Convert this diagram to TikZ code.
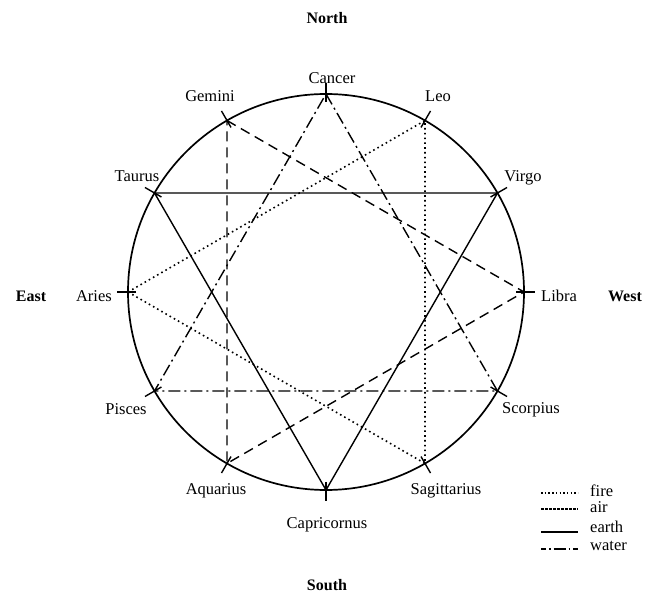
\documentclass[tikz,border=0pt]{standalone}
\usepackage{fontspec}
\setmainfont{Liberation Serif}
\usetikzlibrary{calc}
\begin{document}
\begin{tikzpicture}[x=1pt,y=1pt,
  lbl/.style={inner sep=0pt,font=\fontsize{16.5}{18}\selectfont},
  dir/.style={inner sep=0pt,font=\fontsize{16}{18}\selectfont\bfseries},
  fireln/.style={line width=1.6pt,dash pattern=on 1.6pt off 3.2pt},
  airln/.style={line width=1.4pt,dash pattern=on 10pt off 6pt},
  earthln/.style={line width=1.4pt},
  waterln/.style={line width=1.4pt,dash pattern=on 12pt off 4pt on 2pt off 4pt},
  tick/.style={line width=1.4pt}]
\useasboundingbox (0,0) rectangle (647,594);
\coordinate (c) at (326,302);
\draw[line width=1.7pt] (c) circle (198);
\foreach \n/\a in {libra/0,virgo/30,leo/60,cancer/90,gemini/120,taurus/150,aries/180,pisces/210,aquarius/240,capricornus/270,sagittarius/300,scorpius/330}{
  \coordinate (\n) at ($(c)+(\a:198)$);
  \coordinate (\n-in) at ($(c)+(\a:190)$);
  \coordinate (\n-out) at ($(c)+(\a:209)$);
  \draw[tick] (\n-in) -- (\n-out);
}
% fire
\draw[fireln] (aries) -- (leo) -- (sagittarius) -- cycle;
% air
\draw[airln] (gemini) -- (libra) -- (aquarius) -- cycle;
% earth
\draw[earthln] (taurus) -- (virgo) -- (capricornus) -- cycle;
% water
\draw[waterln] (cancer) -- (scorpius) -- (pisces) -- cycle;
% labels
\node[lbl] (tcancer) at (332,516) {Cancer};
\node[lbl] (tgemini) at (210,498) {Gemini};
\node[lbl] (tleo) at (438,498) {Leo};
\node[lbl] (ttaurus) at (137,418) {Taurus};
\node[lbl] (tvirgo) at (523,416) {Virgo};
\node[lbl,anchor=east] (taries) at (112,298) {Aries};
\node[lbl,anchor=west] (tlibra) at (541,298) {Libra};
\node[lbl] (tpisces) at (126,185) {Pisces};
\node[lbl] (tscorpius) at (531,184) {Scorpius};
\node[lbl] (taquarius) at (216,103) {Aquarius};
\node[lbl] (tsagittarius) at (446,103) {Sagittarius};
\node[lbl] (tcapricornus) at (327,69) {Capricornus};
\node[dir] (north) at (327,576) {North};
\node[dir] (south) at (327,9) {South};
\node[dir] (east) at (31,298) {East};
\node[dir] (west) at (625,298) {West};
% legend
\coordinate (f1) at (541,101); \coordinate (f2) at (578,101);
\coordinate (a1) at (541,85); \coordinate (a2) at (578,85);
\coordinate (e1) at (541,62); \coordinate (e2) at (578,62);
\coordinate (w1) at (541,45); \coordinate (w2) at (578,45);
\draw[line width=1.5pt,dash pattern=on 1.5pt off 2.2pt] (f1) -- (f2);
\draw[line width=1.4pt,dash pattern=on 3pt off 1pt] (a1) -- (a2);
\draw[earthln] (e1) -- (e2);
\draw[line width=1.4pt,dash pattern=on 5pt off 3pt on 1.5pt off 3pt on 12pt off 3pt on 1.5pt off 3pt] (w1) -- (w2);
\node[lbl,anchor=west] (lfire) at (590,103) {fire};
\node[lbl,anchor=west] (lair) at (590,87) {air};
\node[lbl,anchor=west] (learth) at (590,67) {earth};
\node[lbl,anchor=west] (lwater) at (590,48) {water};
\end{tikzpicture}
\end{document}
